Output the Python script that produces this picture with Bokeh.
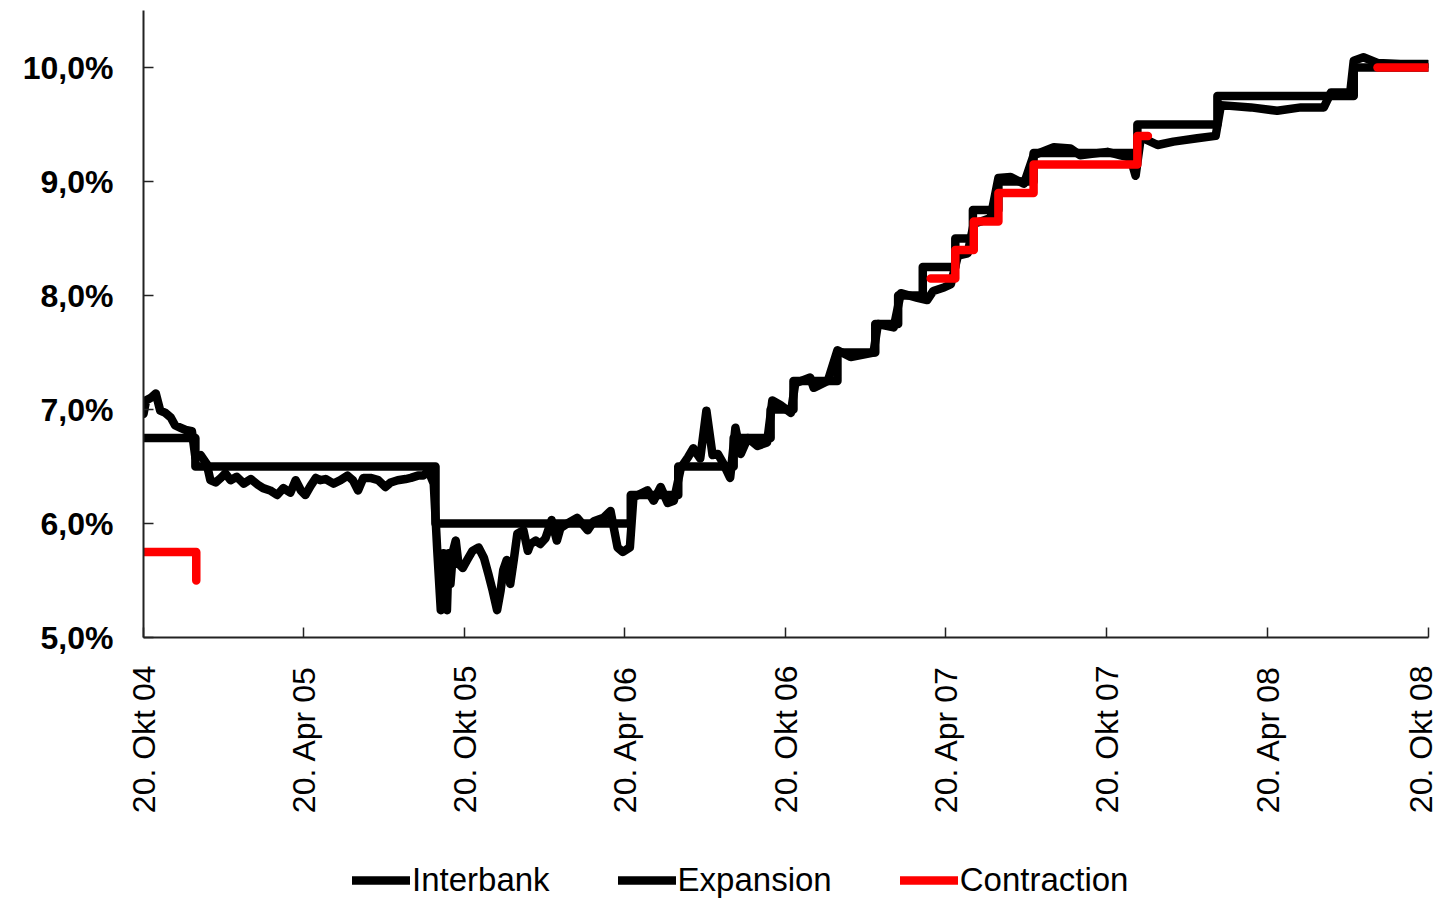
import math
import pandas as pd
from bokeh.plotting import figure
from bokeh.layouts import column
from bokeh.models import FixedTicker, Legend, LegendItem, Range1d
from bokeh.embed import file_html
from bokeh.resources import INLINE

start_date = "2004-10-20"

# axis ticks
x_tick_dates = ["2004-10-20", "2005-04-20", "2005-10-20", "2006-04-20", "2006-10-20",
                "2007-04-20", "2007-10-20", "2008-04-20", "2008-10-20"]
x_tick_labels = ["20. Okt 04", "20. Apr 05", "20. Okt 05", "20. Apr 06", "20. Okt 06",
                 "20. Apr 07", "20. Okt 07", "20. Apr 08", "20. Okt 08"]
y_ticks = [5, 6, 7, 8, 9, 10]
y_tick_labels = ["5,0%", "6,0%", "7,0%", "8,0%", "9,0%", "10,0%"]

# Interbank rate (%)
interbank_dates = [
    "2004-10-20", "2004-10-23", "2004-10-28", "2004-11-03", "2004-11-08", "2004-11-14",
    "2004-11-20", "2004-11-25", "2004-12-01", "2004-12-07", "2004-12-14", "2004-12-18",
    "2004-12-24", "2004-12-31", "2005-01-04", "2005-01-10", "2005-01-16", "2005-01-21",
    "2005-01-27", "2005-02-03", "2005-02-11", "2005-02-19", "2005-02-27", "2005-03-05",
    "2005-03-13", "2005-03-21", "2005-03-28", "2005-04-05", "2005-04-11", "2005-04-17",
    "2005-04-22", "2005-04-28", "2005-05-04", "2005-05-09", "2005-05-15", "2005-05-24",
    "2005-06-01", "2005-06-09", "2005-06-15", "2005-06-21", "2005-06-27", "2005-07-05",
    "2005-07-14", "2005-07-22", "2005-07-28", "2005-08-05", "2005-08-14", "2005-08-20",
    "2005-08-28", "2005-09-03", "2005-09-09", "2005-09-15", "2005-09-19", "2005-09-23",
    "2005-09-26", "2005-09-30", "2005-10-02", "2005-10-04", "2005-10-07", "2005-10-10",
    "2005-10-13", "2005-10-18", "2005-10-23", "2005-10-29", "2005-11-05", "2005-11-11",
    "2005-11-16", "2005-11-21", "2005-11-26", "2005-11-30", "2005-12-03", "2005-12-07",
    "2005-12-11", "2005-12-15", "2005-12-19", "2005-12-26", "2005-12-31", "2006-01-03",
    "2006-01-09", "2006-01-14", "2006-01-20", "2006-01-27", "2006-02-02", "2006-02-06",
    "2006-02-14", "2006-02-25", "2006-03-09", "2006-03-16", "2006-03-27", "2006-04-04",
    "2006-04-12", "2006-04-18", "2006-04-26", "2006-04-30", "2006-05-08", "2006-05-16",
    "2006-05-23", "2006-05-31", "2006-06-08", "2006-06-15", "2006-06-23", "2006-07-01",
    "2006-07-07", "2006-07-15", "2006-07-22", "2006-07-29", "2006-08-04", "2006-08-10",
    "2006-08-18", "2006-08-24", "2006-08-30", "2006-09-07", "2006-09-18", "2006-09-29",
    "2006-10-05", "2006-10-14", "2006-10-26", "2006-10-31", "2006-11-17", "2006-11-21",
    "2006-12-07", "2006-12-18", "2007-01-02", "2007-01-28", "2007-02-02", "2007-02-20",
    "2007-02-28", "2007-03-19", "2007-03-30", "2007-04-06", "2007-04-18", "2007-04-26",
    "2007-05-04", "2007-05-15", "2007-05-22", "2007-05-30", "2007-06-10", "2007-06-19",
    "2007-07-03", "2007-07-18", "2007-07-29", "2007-08-21", "2007-09-09", "2007-09-20",
    "2007-10-21", "2007-11-05", "2007-11-16", "2007-11-22", "2007-11-28", "2007-12-17",
    "2008-01-04", "2008-01-31", "2008-02-21", "2008-02-27", "2008-04-01", "2008-05-01",
    "2008-05-28", "2008-06-23", "2008-07-01", "2008-07-23", "2008-07-27", "2008-08-07",
    "2008-08-23", "2008-09-18", "2008-10-19",
]
interbank_values = [
    6.96, 7.08, 7.10, 7.14, 6.99, 6.97,
    6.93, 6.86, 6.84, 6.82, 6.81, 6.58,
    6.60, 6.52, 6.38, 6.36, 6.40, 6.44,
    6.38, 6.41, 6.35, 6.39, 6.34, 6.31,
    6.29, 6.25, 6.31, 6.27, 6.38, 6.29,
    6.25, 6.33, 6.40, 6.38, 6.39, 6.35,
    6.38, 6.42, 6.38, 6.29, 6.40, 6.40,
    6.38, 6.32, 6.36, 6.38, 6.39, 6.40,
    6.42, 6.42, 6.46, 6.35, 5.76, 5.24,
    5.74, 5.24, 5.74, 5.47, 5.76, 5.85,
    5.65, 5.61, 5.68, 5.76, 5.79, 5.70,
    5.56, 5.41, 5.24, 5.41, 5.59, 5.68,
    5.47, 5.68, 5.91, 5.94, 5.76, 5.82,
    5.85, 5.82, 5.87, 6.03, 5.85, 5.96,
    6.00, 6.05, 5.94, 6.02, 6.05, 6.11,
    5.79, 5.75, 5.79, 6.23, 6.26, 6.29,
    6.20, 6.32, 6.18, 6.20, 6.49, 6.58,
    6.66, 6.57, 6.99, 6.60, 6.61, 6.53,
    6.40, 6.84, 6.61, 6.75, 6.68, 6.71,
    7.08, 7.04, 6.97, 7.23, 7.28, 7.19,
    7.25, 7.52, 7.46, 7.50, 7.75, 7.72,
    8.02, 7.98, 7.96, 8.04, 8.07, 8.10,
    8.35, 8.37, 8.63, 8.65, 8.68, 9.03,
    9.04, 8.98, 9.23, 9.30, 9.29, 9.23,
    9.26, 9.23, 9.21, 9.05, 9.39, 9.32,
    9.35, 9.38, 9.40, 9.67, 9.65, 9.62,
    9.65, 9.65, 9.78, 9.78, 10.06, 10.09,
    10.04, 10.03, 10.03,
]

# Expansion rate (%), step changes
expansion_dates = [
    "2004-10-20", "2004-12-18", "2005-09-17", "2006-04-27", "2006-06-20", "2006-08-22",
    "2006-10-03", "2006-10-29", "2006-12-18", "2007-01-30", "2007-02-25", "2007-03-25",
    "2007-05-01", "2007-05-21", "2007-06-19", "2007-07-29", "2007-11-24", "2008-02-23",
    "2008-07-27", "2008-10-20",
]
expansion_values = [
    6.75, 6.50, 6.00, 6.25, 6.50, 6.75,
    7.00, 7.25, 7.50, 7.75, 8.00, 8.25,
    8.50, 8.75, 9.00, 9.25, 9.50, 9.75,
    10.00, 10.00,
]

# Contraction rate (%), three published periods
contraction_dates_1 = ["2004-10-20", "2004-12-19"]
contraction_values_1 = [5.75, 5.50]
contraction_dates_2 = ["2007-04-03", "2007-05-01", "2007-05-22", "2007-06-19",
                       "2007-07-29", "2007-11-24", "2007-12-06"]
contraction_values_2 = [8.15, 8.40, 8.65, 8.90, 9.15, 9.40, 9.40]
contraction_dates_3 = ["2008-08-23", "2008-10-19"]
contraction_values_3 = [10.00, 10.00]

series_names = ["Interbank", "Expansion", "Contraction"]
series_colors = ["black", "black", "#ff0000"]


def to_days(dates):
    s = pd.Timestamp(start_date)
    return [int((pd.Timestamp(d) - s).days) for d in dates]


x_ticks = to_days(x_tick_dates)
LINE = dict(line_width=8.5, line_join="round", line_cap="round")

p = figure(width=1438, height=850, output_backend="svg", toolbar_location=None,
           x_range=Range1d(0, x_ticks[-1]), y_range=Range1d(5, 10.5),
           min_border_left=143, min_border_right=10, min_border_top=10,
           min_border_bottom=213)
p.outline_line_color = None
p.grid.visible = False

p.step(to_days(expansion_dates), expansion_values, mode="after",
       line_color=series_colors[1], **LINE)
p.line(to_days(interbank_dates), interbank_values, line_color=series_colors[0], **LINE)
for d, v in [(contraction_dates_1, contraction_values_1),
             (contraction_dates_2, contraction_values_2),
             (contraction_dates_3, contraction_values_3)]:
    p.step(to_days(d), v, mode="after", line_color=series_colors[2], **LINE)

# axes
xa = p.xaxis[0]
xa.ticker = FixedTicker(ticks=x_ticks)
xa.major_label_overrides = {t: l for t, l in zip(x_ticks, x_tick_labels)}
xa.major_label_orientation = math.pi / 2
xa.major_tick_in = 10
xa.major_tick_out = 0
xa.minor_tick_in = 0
xa.minor_tick_out = 0
xa.major_label_standoff = 28
xa.major_label_text_font = "Liberation Sans"
xa.major_label_text_font_size = "32px"
xa.major_label_text_color = "black"
xa.axis_line_color = "#222222"
xa.axis_line_width = 2
xa.major_tick_line_color = "#222222"
xa.major_tick_line_width = 1.5

ya = p.yaxis[0]
ya.ticker = FixedTicker(ticks=y_ticks)
ya.major_label_overrides = {t: l for t, l in zip(y_ticks, y_tick_labels)}
ya.major_tick_in = 10
ya.major_tick_out = 0
ya.minor_tick_in = 0
ya.minor_tick_out = 0
ya.major_label_standoff = 30
ya.major_label_text_font = "Liberation Sans"
ya.major_label_text_font_style = "bold"
ya.major_label_text_font_size = "32px"
ya.major_label_text_color = "black"
ya.axis_line_color = "#222222"
ya.axis_line_width = 2
ya.major_tick_line_color = "#222222"
ya.major_tick_line_width = 1.5

# legend strip below the chart (its frame is aligned with the chart frame)
lf = figure(width=1438, height=50, output_backend="svg", toolbar_location=None,
            x_range=Range1d(0, 1), y_range=Range1d(0, 1),
            min_border=0, x_axis_location=None, y_axis_location=None)
lf.outline_line_color = None
lf.grid.visible = False
items = []
for name, col in zip(series_names, series_colors):
    # legend-only renderer, kept outside the visible range
    r = lf.line(x=[-2, -1], y=[-2, -2], line_color=col, **LINE)
    items.append(LegendItem(label=name, renderers=[r]))
legend = Legend(items=items, orientation="horizontal", location=(209, 1),
                padding=0, margin=0, spacing=68, label_standoff=2,
                glyph_width=58, glyph_height=30, label_height=30,
                label_text_font="Liberation Sans", label_text_font_size="33px",
                label_text_color="black",
                border_line_color=None, background_fill_alpha=0)
lf.add_layout(legend, "center")

layout = column(p, lf, spacing=0)
open("out.html", "w").write(file_html(layout, INLINE))
